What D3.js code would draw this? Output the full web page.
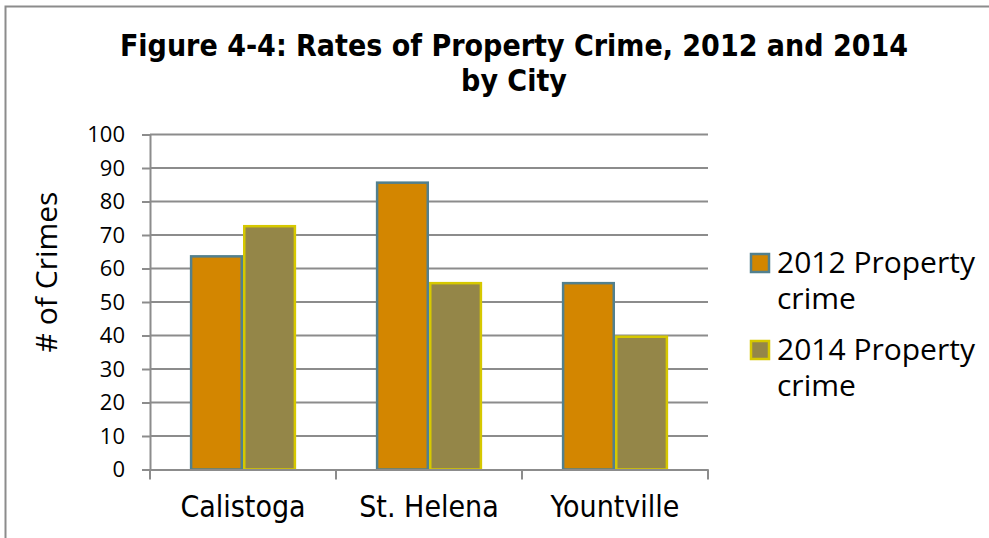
<!DOCTYPE html>
<html>
<head>
<meta charset="utf-8">
<script src="https://cdn.jsdelivr.net/npm/d3@7"></script>
<style>
  html, body { margin: 0; padding: 0; background: #fff; }
  svg { display: block; }
</style>
</head>
<body>
<svg id="chart" width="989" height="538"></svg>
<script>
// Property crime counts by city
const cities = ["Calistoga", "St. Helena", "Yountville"];
const seriesNames = ["2012 Property crime", "2014 Property crime"];
const crimes2012 = [64, 86, 56];
const crimes2014 = [73, 56, 40];
const yTicks = [0, 10, 20, 30, 40, 50, 60, 70, 80, 90, 100];
const titleLines = ["Figure 4-4: Rates of Property Crime, 2012 and 2014", "by City"];
const yTitle = "# of Crimes";

const fills = ["#D38600", "#948648"];
const strokes = ["#52808E", "#D6C800"];

const svg = d3.select("#chart");
const W = 989, H = 538;
const plot = { left: 150, right: 708, top: 134.5, bottom: 469.5 };

// chart frame (runs past the right and bottom edges)
svg.append("rect")
  .attr("x", 5.5).attr("y", 6.5)
  .attr("width", W + 20).attr("height", H + 20)
  .attr("fill", "#fff").attr("stroke", "#8c8c8c").attr("stroke-width", 2);

const y = d3.scaleLinear().domain([0, 100]).range([plot.bottom, plot.top]);
const x0 = d3.scaleBand().domain(cities).range([plot.left, plot.right]).paddingInner(0).paddingOuter(0);
const groupW = x0.bandwidth() * 2 / 3.5;
const x1 = d3.scaleBand().domain([0, 1]).range([0, groupW]).padding(0);
const groupOffset = (x0.bandwidth() - groupW) / 2;

// gridlines
svg.append("g")
  .selectAll("line")
  .data(yTicks.filter(t => t > 0))
  .join("line")
  .attr("x1", plot.left).attr("x2", plot.right)
  .attr("y1", d => y(d)).attr("y2", d => y(d))
  .attr("stroke", "#8c8c8c").attr("stroke-width", 2);

// y axis
const yAxis = svg.append("g")
  .attr("transform", `translate(${plot.left},0)`)
  .call(d3.axisLeft(y).tickValues(yTicks).tickSize(8).tickPadding(17).tickFormat(d3.format("d")));
yAxis.select(".domain").attr("stroke", "#8c8c8c").attr("stroke-width", 2);
yAxis.selectAll(".tick line").attr("stroke", "#8c8c8c").attr("stroke-width", 2);
yAxis.selectAll(".tick text")
  .attr("font-family", "'Open Sans', sans-serif")
  .attr("font-size", 22).attr("fill", "#000");

// bars
const rows = cities.map((c, i) => ({ city: c, values: [crimes2012[i], crimes2014[i]] }));
const groups = svg.append("g").selectAll("g")
  .data(rows).join("g")
  .attr("transform", d => `translate(${x0(d.city) + groupOffset},0)`);
groups.selectAll("rect")
  .data(d => d.values.map((v, k) => ({ v, k })))
  .join("rect")
  .attr("x", d => x1(d.k) + 1.25)
  .attr("width", x1.bandwidth() - 2.5)
  .attr("y", d => y(d.v) + 1.25)
  .attr("height", d => y(0) - y(d.v) - 1.25)
  .attr("fill", d => fills[d.k])
  .attr("stroke", d => strokes[d.k])
  .attr("stroke-width", 2.5);

// x axis
const xAxis = svg.append("g")
  .attr("transform", `translate(0,${plot.bottom})`)
  .call(d3.axisBottom(x0).tickSize(0).tickPadding(26));
xAxis.select(".domain").attr("stroke", "#8c8c8c").attr("stroke-width", 2);
xAxis.selectAll(".tick text")
  .attr("font-family", "'DejaVu Sans Condensed', 'DejaVu Sans', sans-serif")
  .attr("font-size", 30).attr("fill", "#000");
// category separator ticks
const sepTicks = [plot.left].concat(cities.map(c => x0(c) + x0.bandwidth()));
svg.append("g").selectAll("line")
  .data(sepTicks).join("line")
  .attr("x1", d => d).attr("x2", d => d)
  .attr("y1", plot.bottom).attr("y2", plot.bottom + 10)
  .attr("stroke", "#8c8c8c").attr("stroke-width", 2);

// title
const title = svg.append("text")
  .attr("text-anchor", "middle")
  .attr("font-family", "'DejaVu Sans Condensed', 'DejaVu Sans', sans-serif")
  .attr("font-weight", "bold")
  .attr("font-size", 30).attr("fill", "#000");
title.selectAll("tspan").data(titleLines).join("tspan")
  .attr("x", 514).attr("y", (d, i) => 56 + i * 35)
  .text(d => d);

// y axis title
svg.append("text")
  .attr("transform", `translate(57,272) rotate(-90)`)
  .attr("text-anchor", "middle")
  .attr("font-family", "'Open Sans', sans-serif")
  .attr("font-size", 30).attr("fill", "#000")
  .text(yTitle);

// legend
const legend = svg.append("g").selectAll("g")
  .data(seriesNames).join("g")
  .attr("transform", (d, i) => `translate(751,${254 + i * 87})`);
legend.append("rect")
  .attr("width", 18).attr("height", 18)
  .attr("fill", (d, i) => fills[i])
  .attr("stroke", (d, i) => strokes[i])
  .attr("stroke-width", 2.5);
const lt = legend.append("text")
  .attr("font-family", "'Open Sans', sans-serif")
  .attr("font-size", 30).attr("fill", "#000");
lt.selectAll("tspan")
  .data(d => { const p = d.split(" "); return [p[0] + " " + p[1], p[2]]; })
  .join("tspan")
  .attr("x", 26).attr("y", (d, i) => 19 + i * 36)
  .text(d => d);
</script>
</body>
</html>
